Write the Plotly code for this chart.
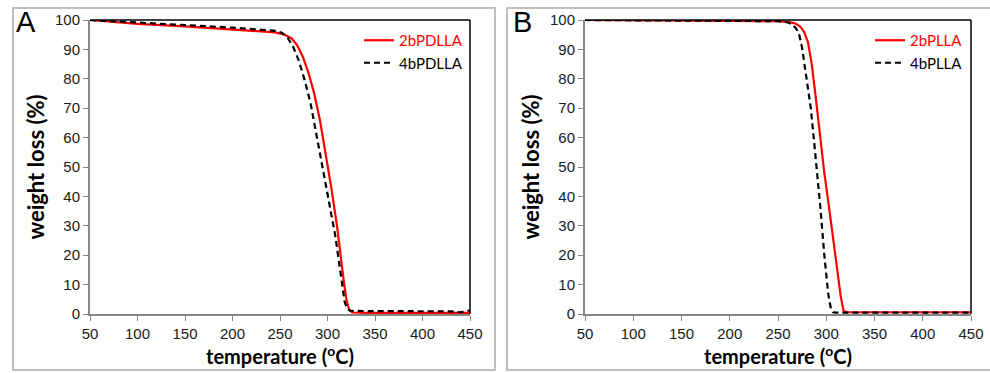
import plotly.graph_objects as go

# ---------------- data ----------------
temp_2bPDLLA = [50, 100, 150, 200, 245, 255, 262, 268, 274, 280, 286, 292, 298, 304, 310, 314, 317, 320, 323, 326, 340, 400, 450]
wl_2bPDLLA = [100, 98.7, 97.8, 96.8, 95.8, 95.0, 93.8, 91.5, 87.5, 82, 75, 66, 55, 43, 30, 19, 11.5, 4.8, 1.3, 0.5, 0.4, 0.4, 0.4]

temp_4bPDLLA = [50, 100, 150, 200, 245, 252, 258, 264, 270, 276, 282, 289, 296, 303, 308, 312, 315, 318, 321, 324, 340, 400, 430, 440, 445, 450]
wl_4bPDLLA = [100, 99.2, 98.4, 97.4, 96.3, 95.7, 94.0, 90.8, 86.0, 79.5, 72, 60, 48, 36, 27, 18, 10.5, 4.2, 1.6, 1.1, 1.0, 0.9, 0.9, 0.6, 0.8, 1.2]

temp_2bPLLA = [50, 150, 250, 262, 268, 273, 277, 281, 285, 289, 293, 298, 303, 308, 312, 315, 318, 322, 350, 450]
wl_2bPLLA = [100, 99.9, 99.6, 99.3, 98.8, 97.8, 96.0, 92.5, 85, 74, 62, 48, 36, 23, 14, 6, 1.0, 0.6, 0.6, 0.6]

temp_4bPLLA = [50, 150, 250, 260, 265, 269, 272, 275, 278, 281, 284, 287, 290, 294, 298, 302, 305, 307, 310, 350, 450]
wl_4bPLLA = [100, 99.9, 99.6, 99.2, 98.5, 97, 95, 90.5, 84, 77, 70, 60, 50, 36, 20, 7, 1.5, 0.6, 0.5, 0.5, 0.5]

x_ticks = [50, 100, 150, 200, 250, 300, 350, 400, 450]
y_ticks = [0, 10, 20, 30, 40, 50, 60, 70, 80, 90, 100]

W, H = 990, 373
def px(x): return x / W
def py(y): return 1 - y / H

RED = "#ff0000"
BLACK = "#000000"

fig = go.Figure()
fig.add_trace(go.Scatter(x=temp_2bPDLLA, y=wl_2bPDLLA, mode="lines",
                         line=dict(color=RED, width=2.2),
                         name="<span style='color:#ff0000'>2bPDLLA</span>",
                         xaxis="x", yaxis="y", legend="legend"))
fig.add_trace(go.Scatter(x=temp_4bPDLLA, y=wl_4bPDLLA, mode="lines",
                         line=dict(color=BLACK, width=2.2, dash="6px,4px"),
                         name="4bPDLLA", xaxis="x", yaxis="y", legend="legend"))
fig.add_trace(go.Scatter(x=temp_2bPLLA, y=wl_2bPLLA, mode="lines",
                         line=dict(color=RED, width=2.2),
                         name="<span style='color:#ff0000'>2bPLLA</span>",
                         xaxis="x2", yaxis="y2", legend="legend2"))
fig.add_trace(go.Scatter(x=temp_4bPLLA, y=wl_4bPLLA, mode="lines",
                         line=dict(color=BLACK, width=2.2, dash="6px,4px"),
                         name="4bPLLA", xaxis="x2", yaxis="y2", legend="legend2"))

tick_font = dict(family="Liberation Sans, Arial", size=15, color="#1a1a1a")
xtitle_font = dict(family="Lato, Open Sans", size=20, color="#000000")
ytitle_font = dict(family="Lato, Open Sans", size=22, color="#000000")

common_x = dict(range=[50, 450], tickvals=x_ticks, showgrid=False, zeroline=False,
                showline=True, linecolor="#868686", linewidth=2,
                ticks="outside", ticklen=5, tickcolor="#868686", tickwidth=1,
                tickfont=tick_font, automargin=False,
                title=dict(text="<b>temperature (<sup>o</sup>C)</b>", font=xtitle_font, standoff=4))
common_y = dict(range=[0, 100], tickvals=y_ticks, showgrid=False, zeroline=False,
                showline=True, linecolor="#868686", linewidth=2,
                ticks="outside", ticklen=5, tickcolor="#868686", tickwidth=1,
                tickfont=tick_font, automargin=False,
                title=dict(text="<b>weight loss (%)</b>", font=ytitle_font, standoff=4))

ydom = [py(314), py(20)]
legend_font = dict(family="Lato, Open Sans", size=15, color="#000000")
fig.update_layout(
    width=W, height=H, margin=dict(l=0, r=0, t=0, b=0),
    paper_bgcolor="white", plot_bgcolor="white",
    xaxis=dict(domain=[px(90), px(470)], anchor="y", **common_x),
    yaxis=dict(domain=ydom, anchor="x", **common_y),
    xaxis2=dict(domain=[px(585), px(971)], anchor="y2", **common_x),
    yaxis2=dict(domain=ydom, anchor="x2", **common_y),
    legend=dict(x=px(468), y=py(24), xanchor="right", yanchor="top",
                bgcolor="rgba(0,0,0,0)", itemwidth=30, font=legend_font),
    legend2=dict(x=px(968), y=py(24), xanchor="right", yanchor="top",
                 bgcolor="rgba(0,0,0,0)", itemwidth=30, font=legend_font),
    showlegend=True,
)

shapes = []
# outer panel boxes
shapes.append(dict(type="rect", xref="paper", yref="paper", x0=px(13), x1=px(495), y0=py(370), y1=py(8),
                   line=dict(color="#bfbfbf", width=2), layer="below"))
shapes.append(dict(type="rect", xref="paper", yref="paper", x0=px(507), x1=px(1000), y0=py(370), y1=py(8),
                   line=dict(color="#bfbfbf", width=2), layer="below"))
# black top/right plot borders
for xa in ["x", "x2"]:
    ya = "y" if xa == "x" else "y2"
    shapes.append(dict(type="line", xref=f"{xa} domain", yref=f"{ya} domain", x0=0, x1=1, y0=1, y1=1,
                       line=dict(color="#000000", width=1.5)))
    shapes.append(dict(type="line", xref=f"{xa} domain", yref=f"{ya} domain", x0=1, x1=1, y0=0, y1=1,
                       line=dict(color="#000000", width=1.5)))
fig.update_layout(shapes=shapes)

fig.add_annotation(text="A", xref="paper", yref="paper", x=px(14), y=py(22), xanchor="left", yanchor="middle",
                   showarrow=False, font=dict(family="Liberation Sans, Arial", size=29, color="#000000"))
fig.add_annotation(text="B", xref="paper", yref="paper", x=px(511), y=py(22), xanchor="left", yanchor="middle",
                   showarrow=False, font=dict(family="Liberation Sans, Arial", size=29, color="#000000"))

fig.write_html("out.html")
